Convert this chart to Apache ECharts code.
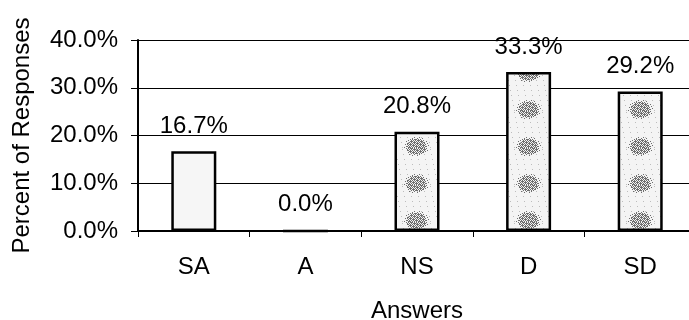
<!DOCTYPE html>
<html>
<head>
<meta charset="utf-8">
<script src="https://cdn.jsdelivr.net/npm/echarts@6/dist/echarts.min.js"></script>
<style>html,body{margin:0;padding:0;background:#fff;}#c{width:689px;height:320px;}</style>
</head>
<body>
<div id="c"></div>
<script>
const categories = ['SA', 'A', 'NS', 'D', 'SD'];
const percentResponses = [16.7, 0.0, 20.8, 33.3, 29.2];
const yTicks = [0, 10, 20, 30, 40];

const FONT = '"Liberation Sans", Arial, sans-serif';

// speckled texture tile (styling only)
function makeTile() {
  const W = 112, H = 37, cx = 80, cy = 35;
  const cv = document.createElement('canvas');
  cv.width = W; cv.height = H;
  const g = cv.getContext('2d');
  g.fillStyle = '#f4f4f4';
  g.fillRect(0, 0, W, H);
  g.fillStyle = '#bdbdbd';
  for (let y = 1; y < H; y += 5) {
    for (let x = (y * 3) % 7; x < W; x += 7) g.fillRect(x, y, 1, 1);
  }
  g.fillStyle = '#6e6e6e';
  for (let y = 0; y < H; y++) {
    let dy = Math.abs(y - cy); dy = Math.min(dy, H - dy);
    for (let x = 0; x < W; x++) {
      const dx = x - cx;
      const r = (dx / 10) * (dx / 10) + (dy / 8) * (dy / 8);
      if (r < 1 && (x + y) % 2 === 0) g.fillRect(x, y, 1, 1);
      else if (r < 1.5 && (x + 2 * y) % 5 === 0) g.fillRect(x, y, 1, 1);
    }
  }
  return cv;
}
const tile = makeTile();

const chart = echarts.init(document.getElementById('c'), null, {renderer: 'canvas'});
chart.setOption({
  animation: false,
  backgroundColor: '#fff',
  grid: {left: 138, top: 40, width: 558, height: 191, containLabel: false, outerBoundsMode: 'none'},
  xAxis: {
    type: 'category',
    data: categories,
    name: 'Answers',
    nameLocation: 'middle',
    nameGap: 68,
    nameTextStyle: {fontFamily: FONT, fontSize: 24, color: '#000'},
    axisLine: {lineStyle: {color: '#000', width: 2}},
    axisTick: {show: true, length: 6, lineStyle: {color: '#000', width: 1}},
    axisLabel: {fontFamily: FONT, fontSize: 24, color: '#000', margin: 24}
  },
  yAxis: {
    type: 'value',
    min: yTicks[0],
    max: yTicks[yTicks.length - 1],
    interval: 10,
    name: 'Percent of Responses',
    nameLocation: 'middle',
    nameGap: 104,
    nameTextStyle: {fontFamily: FONT, fontSize: 24, color: '#000'},
    axisLine: {show: true, lineStyle: {color: '#000', width: 2}},
    axisTick: {show: true, length: 7, lineStyle: {color: '#000', width: 1}},
    axisLabel: {fontFamily: FONT, fontSize: 24, color: '#000', margin: 20,
      formatter: v => v.toFixed(1) + '%'},
    splitLine: {show: true, lineStyle: {color: '#000', width: 1}}
  },
  series: [{
    type: 'bar',
    data: percentResponses.map((v, i) => ({
      value: v,
      itemStyle: i === 0 ? {color: '#f6f6f6'} : {color: {image: tile, repeat: 'repeat'}}
    })),
    barWidth: 45,
    itemStyle: {borderColor: '#000', borderWidth: 2.5},
    label: {
      show: true, position: 'top', distance: 13,
      fontFamily: FONT, fontSize: 24, color: '#000',
      formatter: p => p.value.toFixed(1) + '%'
    }
  }]
});
</script>
</body>
</html>
